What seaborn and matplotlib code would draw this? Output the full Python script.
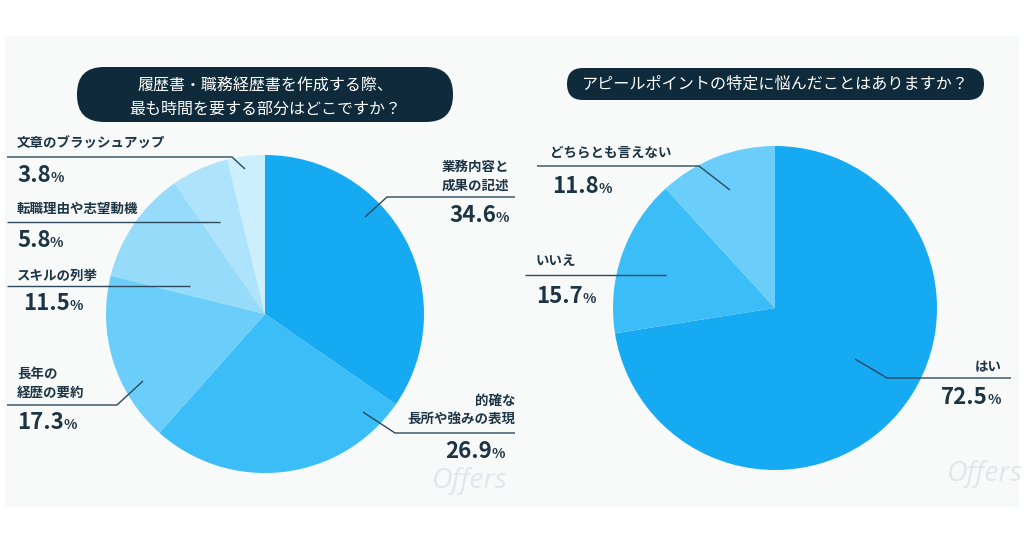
import matplotlib
matplotlib.use("Agg")
import matplotlib.pyplot as plt
import seaborn as sns
from matplotlib.patches import FancyBboxPatch, Rectangle

# ---------------- data ----------------
left_title = "履歴書・職務経歴書を作成する際、\n最も時間を要する部分はどこですか？"
left_labels = ["業務内容と\n成果の記述", "的確な\n長所や強みの表現", "長年の\n経歴の要約",
               "スキルの列挙", "転職理由や志望動機", "文章のブラッシュアップ"]
left_values = [34.6, 26.9, 17.3, 11.5, 5.8, 3.8]
left_colors = ["#16aaf2", "#3bbdf8", "#6bcefa", "#97dbfb", "#ade3fb", "#cdeefd"]

right_title = "アピールポイントの特定に悩んだことはありますか？"
right_labels = ["はい", "いいえ", "どちらとも言えない"]
right_values = [72.5, 15.7, 11.8]
right_colors = ["#16aaf2", "#3bbdf8", "#6bcefa"]

# ---------------- style ----------------
sns.set_theme(style="white")
plt.rcParams['font.family'] = ['Noto Sans CJK JP', 'DejaVu Sans']

W, H = 1024, 538
fig = plt.figure(figsize=(W / 100, H / 100), dpi=100)
fig.patch.set_facecolor("white")

TXT = "#1d3444"
LINE = "#2c4a5c"
BOX = "#0f2a3a"

# background panel
bg = fig.add_axes([0, 0, 1, 1], zorder=0)
bg.set_xlim(0, W); bg.set_ylim(H, 0); bg.axis("off")
bg.add_patch(Rectangle((5, 36), 1014, 471, facecolor="#f8fafa", edgecolor="none"))


def pie_axes(cx, cy, r, values, colors):
    ax = fig.add_axes([(cx - r) / W, (H - (cy + r)) / H, 2 * r / W, 2 * r / H], zorder=1)
    ax.pie(values, colors=colors, startangle=90, counterclock=False, radius=1,
           wedgeprops=dict(linewidth=0))
    ax.set_xlim(-1, 1); ax.set_ylim(-1, 1)
    ax.set_aspect("auto")
    ax.axis("off")
    return ax


pie_axes(265, 314, 159, left_values, left_colors)
pie_axes(775, 308, 162, right_values, right_colors)

ov = fig.add_axes([0, 0, 1, 1], zorder=2)
ov.set_xlim(0, W); ov.set_ylim(H, 0); ov.axis("off")
ov.patch.set_alpha(0)

# title boxes
ov.add_patch(FancyBboxPatch((77, 67), 376, 55, boxstyle="round,pad=0,rounding_size=27",
                            facecolor=BOX, edgecolor="none"))
ov.text(265, 97.5, left_title, ha="center", va="center", color="white", fontsize=11.5,
        linespacing=1.45)
ov.add_patch(FancyBboxPatch((567, 68), 417, 32, boxstyle="round,pad=0,rounding_size=16",
                            facecolor=BOX, edgecolor="none"))
ov.text(775, 84.5, right_title, ha="center", va="center", color="white", fontsize=11.6)

renderer = fig.canvas.get_renderer()


def label(x, y, s, ha="left"):
    ov.text(x, y, s, ha=ha, va="center", color=TXT, fontsize=9.7, fontweight="bold",
            linespacing=1.45)


def pct(x, base, v, ha="left"):
    num = f"{v:.1f}"
    if ha == "left":
        t = ov.text(x, base, num, ha="left", va="baseline", color=TXT, fontsize=16,
                    fontweight="bold")
        bb = t.get_window_extent(renderer)
        ov.text(bb.x1 - 0.5, base, "%", ha="left", va="baseline", color=TXT, fontsize=10,
                fontweight="bold")
    else:
        t = ov.text(x, base, "%", ha="right", va="baseline", color=TXT, fontsize=10,
                    fontweight="bold")
        bb = t.get_window_extent(renderer)
        ov.text(bb.x0 + 0.5, base, num, ha="right", va="baseline", color=TXT, fontsize=16,
                fontweight="bold")


def line(xs, ys):
    ov.plot(xs, ys, color=LINE, lw=1.0, solid_capstyle="butt")


# ---- left pie annotations ----
label(17, 144, left_labels[5]); line([7, 232, 245], [157, 157, 169]); pct(17, 182, left_values[5])
label(17, 209, left_labels[4]); line([7, 220], [222, 222]); pct(17, 247, left_values[4])
label(17, 276, left_labels[3]); line([7, 190], [286, 286]); pct(23, 310, left_values[3])
label(17, 383, left_labels[2]); line([7, 117, 143], [405, 405, 381]); pct(17, 429, left_values[2])
label(509, 176, left_labels[0], ha="right"); line([365, 387, 515], [217, 197, 197])
pct(509, 222, left_values[0], ha="right")
label(515, 410, left_labels[1], ha="right"); line([363, 395, 515], [412, 433, 433])
pct(505, 458, left_values[1], ha="right")

# ---- right pie annotations ----
label(550, 153, right_labels[2]); line([537, 699, 730], [166, 166, 190]); pct(552, 193, right_values[2])
label(536, 261, right_labels[1]); line([525, 666], [275, 275]); pct(536, 303, right_values[1])
label(1002, 367, right_labels[0], ha="right"); line([855, 887, 1011], [359, 378, 378])
pct(1001, 404, right_values[0], ha="right")

# watermarks
for x, y in [(470, 481), (985, 474)]:
    ov.text(x, y, "Offers", ha="center", va="center", color="#e3e6e9", fontsize=20.5,
            fontstyle="italic", family="Open Sans")

fig.savefig("out.png", dpi=100, facecolor="white")
